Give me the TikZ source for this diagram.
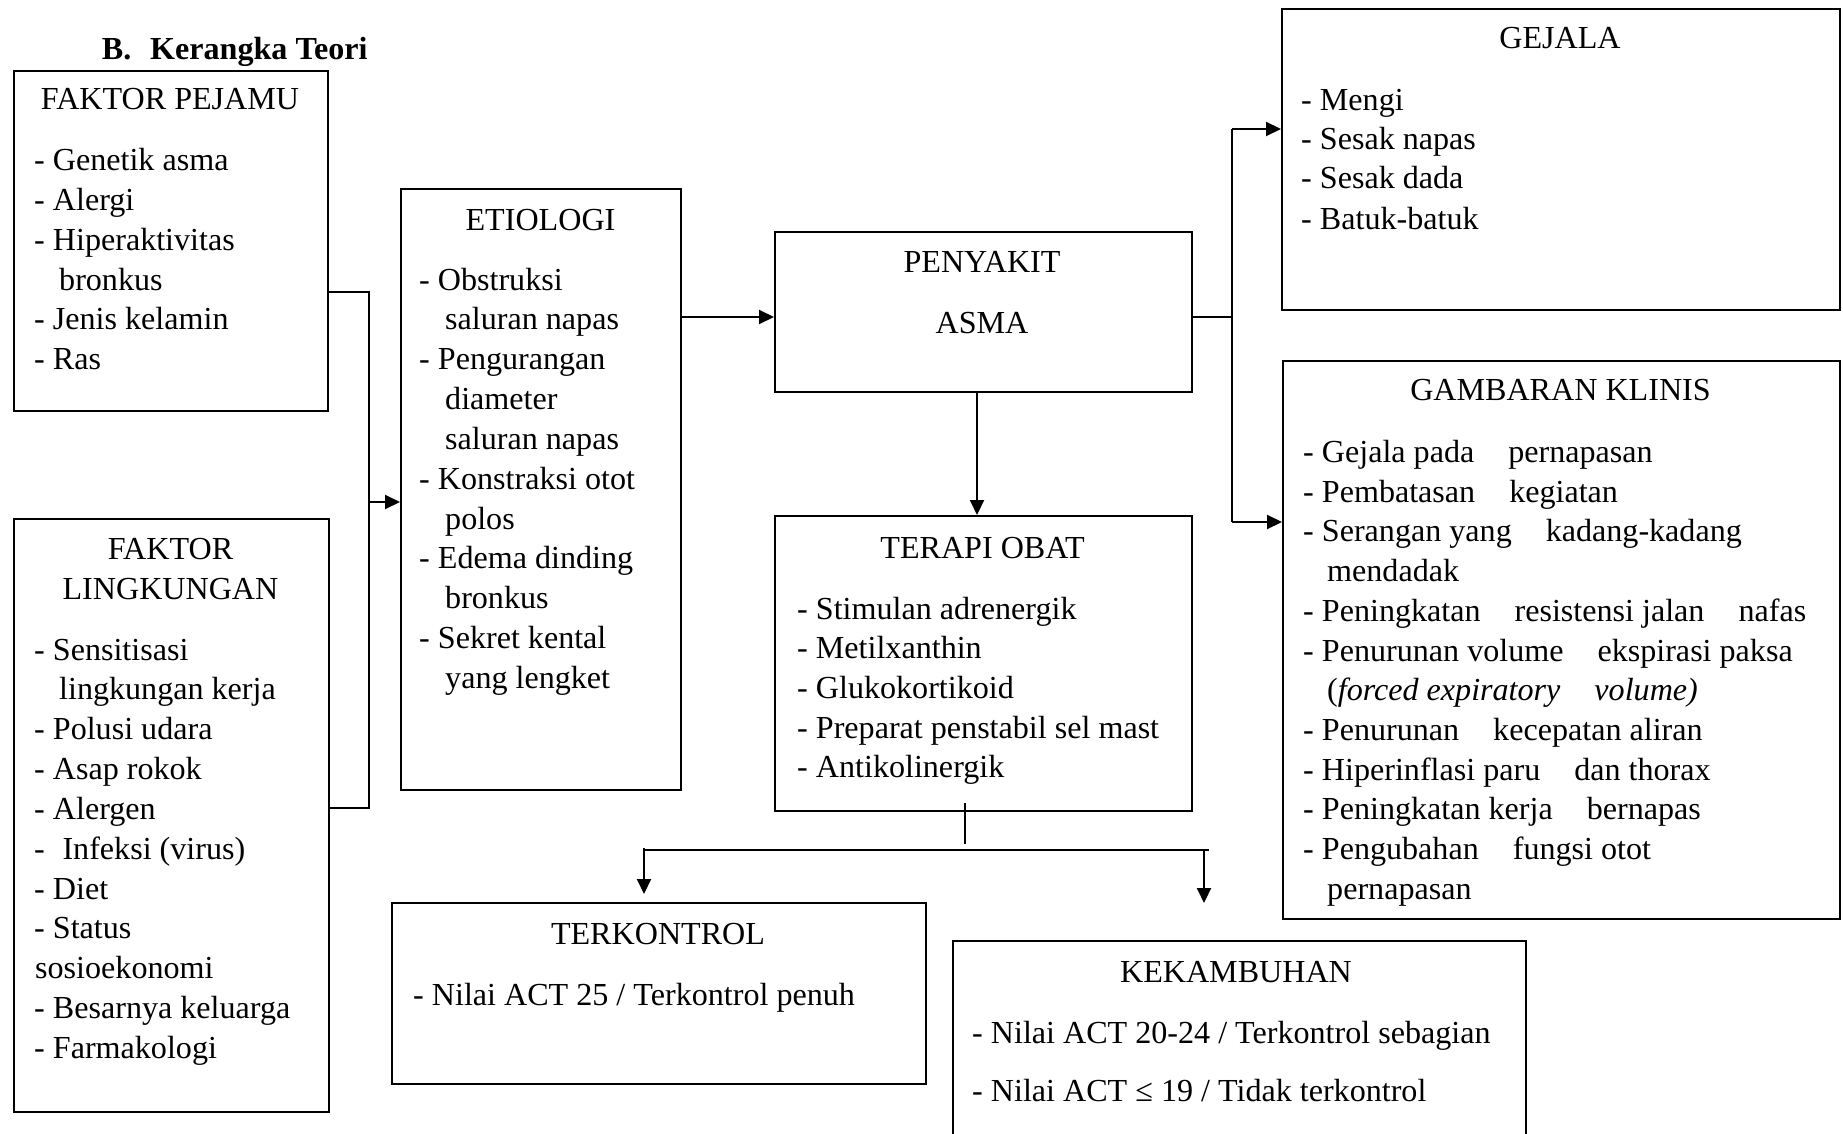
\documentclass[tikz,border=0pt]{standalone}
\usepackage{fontspec}
\setmainfont{Liberation Serif}
\usetikzlibrary{arrows.meta}
\newcommand\wgap{\hspace{34pt}}
\tikzset{
  boxnode/.style={draw, line width=2.4pt, inner sep=0pt, anchor=north west},
  conn/.style={line width=2pt},
  tip/.style={-{Triangle[length=15pt,width=14pt]}},
  txt/.style={anchor=base west, inner sep=0pt},
  ttl/.style={anchor=base, inner sep=0pt},
  every node/.style={font=\fontsize{32.1}{40}\selectfont}
}
\begin{document}
\begin{tikzpicture}[x=1pt,y=-1pt]
\useasboundingbox (0,0) rectangle (1843,1134);
\clip (0,0) rectangle (1843,1134);

% heading
\node[txt] (head) at (101.7,59.5) {\bfseries\makebox[48.3pt][l]{B.}Kerangka Teori};

% boxes
\node[boxnode, minimum width=314pt, minimum height=340pt] (fp) at (13,70) {};
\node[boxnode, minimum width=315pt, minimum height=593pt] (fl) at (13,518) {};
\node[boxnode, minimum width=280pt, minimum height=601pt] (et) at (400,188) {};
\node[boxnode, minimum width=417pt, minimum height=160pt] (pa) at (774,231) {};
\node[boxnode, minimum width=417pt, minimum height=295pt] (to) at (774,515) {};
\node[boxnode, minimum width=558pt, minimum height=301pt] (gj) at (1281,8) {};
\node[boxnode, minimum width=557pt, minimum height=558pt] (gk) at (1282,360) {};
\node[boxnode, minimum width=534pt, minimum height=181pt] (tk) at (391,902) {};
\node[boxnode, minimum width=573pt, minimum height=260pt] (kk) at (952,940) {};

% FAKTOR PEJAMU
\node[ttl] (fpt) at (170,110) {FAKTOR PEJAMU};
\node[txt] (fp1) at (34,171) {- Genetik asma};
\node[txt] (fp2) at (34,210.7) {- Alergi};
\node[txt] (fp3) at (34,250.4) {- Hiperaktivitas};
\node[txt] (fp4) at (59,290.1) {bronkus};
\node[txt] (fp5) at (34,329.8) {- Jenis kelamin};
\node[txt] (fp6) at (34,369.5) {- Ras};

% FAKTOR LINGKUNGAN
\node[ttl] (flt1) at (170.5,559) {FAKTOR};
\node[ttl] (flt2) at (170.5,599) {LINGKUNGAN};
\node[txt] (fl1) at (34,660) {- Sensitisasi};
\node[txt] (fl2) at (59,699.85) {lingkungan kerja};
\node[txt] (fl3) at (34,739.7) {- Polusi udara};
\node[txt] (fl4) at (34,779.55) {- Asap rokok};
\node[txt] (fl5) at (34,819.4) {- Alergen};
\node[txt] (fl6) at (34,859.25) {-\hspace{0.55em}Infeksi (virus)};
\node[txt] (fl7) at (34,899.1) {- Diet};
\node[txt] (fl8) at (34,938.95) {- Status};
\node[txt] (fl9) at (35,978.8) {sosioekonomi};
\node[txt] (fl10) at (34,1018.65) {- Besarnya keluarga};
\node[txt] (fl11) at (34,1058.5) {- Farmakologi};

% ETIOLOGI
\node[ttl] (ett) at (540.5,230) {ETIOLOGI};
\node[txt] (et1) at (419,290) {- Obstruksi};
\node[txt] (et2) at (445,329.85) {saluran napas};
\node[txt] (et3) at (419,369.7) {- Pengurangan};
\node[txt] (et4) at (445,409.55) {diameter};
\node[txt] (et5) at (445,449.4) {saluran napas};
\node[txt] (et6) at (419,489.25) {- Konstraksi otot};
\node[txt] (et7) at (445,529.1) {polos};
\node[txt] (et8) at (419,568.95) {- Edema dinding};
\node[txt] (et9) at (445,608.8) {bronkus};
\node[txt] (et10) at (419,648.65) {- Sekret kental};
\node[txt] (et11) at (445,688.5) {yang lengket};

% PENYAKIT ASMA
\node[ttl] (pat1) at (982,272) {PENYAKIT};
\node[ttl] (pat2) at (982,333) {ASMA};

% TERAPI OBAT
\node[ttl] (tot) at (982.5,558.5) {TERAPI OBAT};
\node[txt] (to1) at (797,619) {- Stimulan adrenergik};
\node[txt] (to2) at (797,658.7) {- Metilxanthin};
\node[txt] (to3) at (797,698.4) {- Glukokortikoid};
\node[txt] (to4) at (797,738.1) {- Preparat penstabil sel mast};
\node[txt] (to5) at (797,777.8) {- Antikolinergik};

% GEJALA
\node[ttl] (gjt) at (1560,48.5) {GEJALA};
\node[txt] (gj1) at (1301,110.5) {- Mengi};
\node[txt] (gj2) at (1301,149.5) {- Sesak napas};
\node[txt] (gj3) at (1301,189) {- Sesak dada};
\node[txt] (gj4) at (1301,229) {- Batuk-batuk};

% GAMBARAN KLINIS
\node[ttl] (gkt) at (1560.5,400.5) {GAMBARAN KLINIS};
\node[txt] (gk1) at (1303,462.5) {- Gejala pada\wgap pernapasan};
\node[txt] (gk2) at (1303,502.2) {- Pembatasan\wgap kegiatan};
\node[txt] (gk3) at (1303,541.9) {- Serangan yang\wgap kadang-kadang};
\node[txt] (gk4) at (1327,581.6) {mendadak};
\node[txt] (gk5) at (1303,621.3) {- Peningkatan\wgap resistensi jalan\wgap nafas};
\node[txt] (gk6) at (1303,661) {- Penurunan volume\wgap ekspirasi paksa};
\node[txt] (gk7) at (1327,700.7) {(\textit{forced expiratory\wgap volume)}};
\node[txt] (gk8) at (1303,740.4) {- Penurunan\wgap kecepatan aliran};
\node[txt] (gk9) at (1303,780.1) {- Hiperinflasi paru\wgap dan thorax};
\node[txt] (gk10) at (1303,819.8) {- Peningkatan kerja\wgap bernapas};
\node[txt] (gk11) at (1303,859.5) {- Pengubahan\wgap fungsi otot};
\node[txt] (gk12) at (1327,899.2) {pernapasan};

% TERKONTROL
\node[ttl] (tkt) at (658,944) {TERKONTROL};
\node[txt] (tk1) at (413,1005.5) {- Nilai ACT 25 / Terkontrol penuh};

% KEKAMBUHAN
\node[ttl] (kkt) at (1236,982.5) {KEKAMBUHAN};
\node[txt] (kk1) at (972,1043.5) {- Nilai ACT 20-24 / Terkontrol sebagian};
\node[txt] (kk2) at (972,1101.5) {- Nilai ACT ≤ 19 / Tidak terkontrol};

% connector points
\coordinate (b1) at (369,292);
\coordinate (b2) at (369,808);
\coordinate (b3) at (369,502);
\coordinate (c1) at (700,317);
\coordinate (j1) at (1232,317);
\coordinate (j2) at (1232,129);
\coordinate (j3) at (1232,522);
\coordinate (d1) at (977,400);
\coordinate (s1) at (965,803);
\coordinate (s2) at (965,844);
\coordinate (h1) at (644,850);
\coordinate (h2) at (1209,850);
\coordinate (la) at (644,848);
\coordinate (lb) at (644,894);
\coordinate (ra) at (1204,850);
\coordinate (rb) at (1204,903);

% connectors
\draw[conn] (fp.east |- b1) -- (b1) -- (b2) -- (fl.east |- b2);
\draw[conn,tip] (b3) -- (et.west |- b3);
\draw[conn,tip] (et.east |- c1) -- (pa.west |- c1);
\draw[conn] (pa.east |- j1) -- (j1);
\draw[conn] (j2) -- (j3);
\draw[conn,tip] (j2) -- (gj.west |- j2);
\draw[conn,tip] (j3) -- (gk.west |- j3);
\draw[conn,tip] (pa.south -| d1) -- (to.north -| d1);
\draw[conn] (s1) -- (s2);
\draw[conn] (h1) -- (h2);
\draw[conn,tip] (la) -- (lb);
\draw[conn,tip] (ra) -- (rb);
\end{tikzpicture}
\end{document}
